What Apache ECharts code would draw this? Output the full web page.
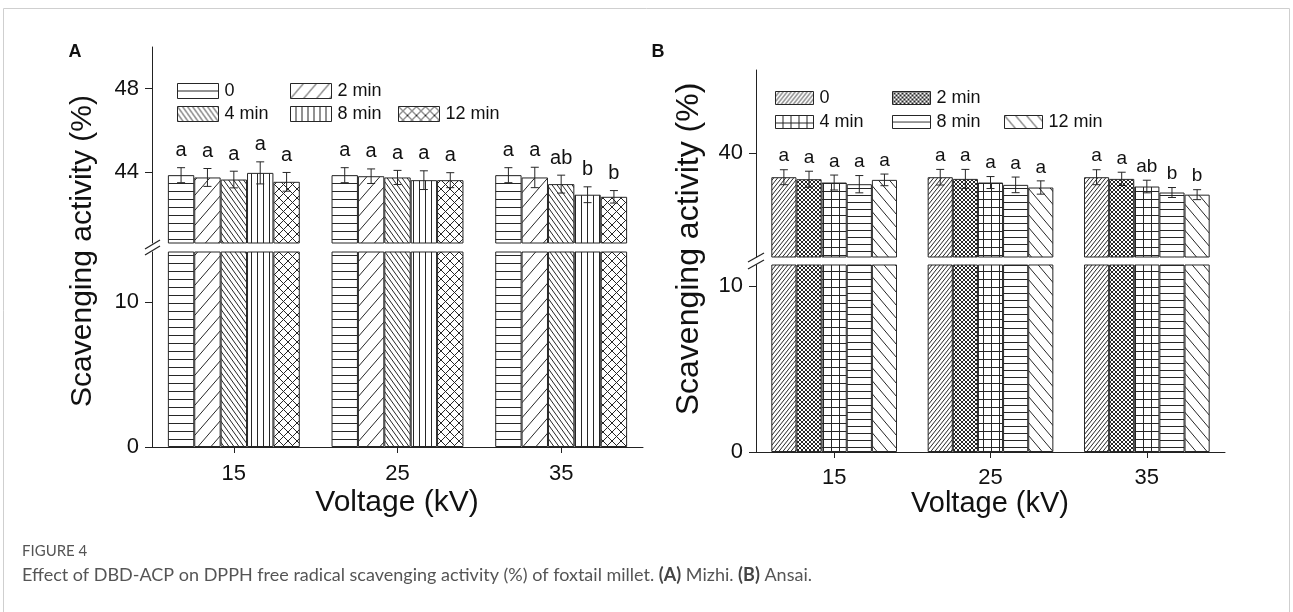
<!DOCTYPE html>
<html><head><meta charset="utf-8">
<script src="https://cdn.jsdelivr.net/npm/echarts@6/dist/echarts.min.js"></script>
<style>html,body{margin:0;padding:0;background:#fff}#c{width:1293px;height:612px}</style>
</head><body><div id="c"></div>
<script>
// ---------------- DATA ----------------
const categories = ['15', '25', '35'];
const seriesNames = ['0', '2 min', '4 min', '8 min', '12 min'];

// Panel A (Mizhi): mean, error, letters for each treatment time across voltages 15/25/35
const meanA_0   = [43.84, 43.84, 43.84];
const meanA_2   = [43.73, 43.79, 43.73];
const meanA_4   = [43.63, 43.73, 43.41];
const meanA_8   = [43.95, 43.60, 42.90];
const meanA_12  = [43.52, 43.60, 42.80];
const errA_0    = [0.36, 0.36, 0.36];
const errA_2    = [0.43, 0.35, 0.49];
const errA_4    = [0.40, 0.34, 0.43];
const errA_8    = [0.53, 0.45, 0.38];
const errA_12   = [0.45, 0.36, 0.30];
const letA_0    = ['a', 'a', 'a'];
const letA_2    = ['a', 'a', 'a'];
const letA_4    = ['a', 'a', 'ab'];
const letA_8    = ['a', 'a', 'b'];
const letA_12   = ['a', 'a', 'b'];

// Panel B (Ansai)
const meanB_0   = [38.55, 38.55, 38.55];
const meanB_2   = [38.43, 38.45, 38.45];
const meanB_4   = [38.23, 38.23, 37.99];
const meanB_8   = [38.13, 38.09, 37.63];
const meanB_12  = [38.39, 37.93, 37.50];
const errB_0    = [0.45, 0.47, 0.45];
const errB_2    = [0.48, 0.57, 0.40];
const errB_4    = [0.45, 0.36, 0.38];
const errB_8    = [0.52, 0.47, 0.30];
const errB_12   = [0.35, 0.40, 0.30];
const letB_0    = ['a', 'a', 'a'];
const letB_2    = ['a', 'a', 'a'];
const letB_4    = ['a', 'a', 'ab'];
const letB_8    = ['a', 'a', 'b'];
const letB_12   = ['a', 'a', 'b'];

// Axis tick labels
const ticksA_upper = [44, 48];
const ticksA_lower = [0, 10];
const ticksB_upper = [40];
const ticksB_lower = [0, 10];

// ---------------- STYLE HELPERS ----------------
const FONT = 'Liberation Sans, Arial, sans-serif';
const INK = '#262626';
function tile(w, h, draw) {
  const c = document.createElement('canvas'); c.width = w; c.height = h;
  const g = c.getContext('2d'); g.fillStyle = '#fff'; g.fillRect(0, 0, w, h);
  g.strokeStyle = INK; g.lineWidth = 1; g.beginPath(); draw(g, w, h); g.stroke();
  return { image: c, repeat: 'repeat' };
}
const hLines = s => tile(4, s, (g, w, h) => { g.moveTo(0, h - 0.5); g.lineTo(w, h - 0.5); });
const vLines = s => tile(s, 4, (g, w, h) => { g.moveTo(w - 0.5, 0); g.lineTo(w - 0.5, h); });
const slash = (w, h) => tile(w, h, g => { for (let k = -1; k <= 1; k++) { g.moveTo(k * w, h); g.lineTo(k * w + w, 0); } });
const back = (w, h) => tile(w, h, g => { for (let k = -1; k <= 1; k++) { g.moveTo(k * w, 0); g.lineTo(k * w + w, h); } });
const cross = (w, h) => tile(w, h, g => { for (let k = -1; k <= 1; k++) { g.moveTo(k * w, h); g.lineTo(k * w + w, 0); g.moveTo(k * w, 0); g.lineTo(k * w + w, h); } });
const gridP = (sx, sy) => tile(sx, sy, (g, w, h) => { g.moveTo(0, h - 0.5); g.lineTo(w, h - 0.5); g.moveTo(w - 0.5, 0); g.lineTo(w - 0.5, h); });

const patternsA = [hLines(8), slash(13, 15), back(5, 7), vLines(6), cross(9, 9)];
const patternsB = [slash(4, 5), cross(4, 4), gridP(8, 8), hLines(7), back(11, 13)];

const panels = [
  {
    key: 'A', suffix: '', gap: 0.194, xMargin: 16,
    means: [meanA_0, meanA_2, meanA_4, meanA_8, meanA_12],
    errs: [errA_0, errA_2, errA_4, errA_8, errA_12],
    lets: [letA_0, letA_2, letA_4, letA_8, letA_12],
    patterns: patternsA,
    up: { left: 152, top: 47, width: 491, height: 196, min: 40.58, max: 50, ticks: ticksA_upper },
    low: { left: 152, top: 252, width: 491, height: 195, min: 0, max: 13.45, ticks: ticksA_lower },
    letterFont: 20, letterOff: 17,
    legend: { w: 41, h: 15, pos: [[177, 82], [290, 82], [177, 105], [290, 105], [398, 105]] }
  },
  {
    key: 'B', suffix: '\u200b', gap: 0.196, xMargin: 15,
    means: [meanB_0, meanB_2, meanB_4, meanB_8, meanB_12],
    errs: [errB_0, errB_2, errB_4, errB_8, errB_12],
    lets: [letB_0, letB_2, letB_4, letB_8, letB_12],
    patterns: patternsB,
    up: { left: 756, top: 70, width: 469, height: 187, min: 33.75, max: 45, ticks: ticksB_upper },
    low: { left: 756, top: 265, width: 469, height: 187, min: 0, max: 11.25, ticks: ticksB_lower },
    letterFont: 19, letterOff: 13.5,
    legend: { w: 38, h: 13, pos: [[775, 89], [892, 89], [775, 113], [892, 113], [1004, 113]] }
  }
];

const grid = [], xAxis = [], yAxis = [], series = [], legend = [], graphic = [];

panels.forEach((p, pi) => {
  const gU = pi * 2, gL = pi * 2 + 1;
  [p.up, p.low].forEach((g, k) => {
    grid.push({ left: g.left, top: g.top, width: g.width, height: g.height, containLabel: false, outerBoundsMode: 'none' });
    const isLow = k === 1;
    xAxis.push({
      type: 'category', gridIndex: pi * 2 + k, data: categories, show: isLow,
      axisLine: { show: true, lineStyle: { color: '#222', width: 1 } },
      axisTick: { show: true, alignWithLabel: true, length: 6, lineStyle: { color: '#222' } },
      axisLabel: { show: true, fontSize: 22, fontFamily: FONT, color: '#111', margin: p.xMargin },
      splitLine: { show: false }
    });
    yAxis.push({
      type: 'value', gridIndex: pi * 2 + k, min: g.min, max: g.max,
      axisLine: { show: true, lineStyle: { color: '#222', width: 1 } },
      axisTick: { show: true, length: 7, inside: false, customValues: g.ticks, lineStyle: { color: '#222' } },
      axisLabel: { show: true, customValues: g.ticks, fontSize: 22, fontFamily: FONT, color: '#111', margin: 13 },
      splitLine: { show: false }
    });
  });

  seriesNames.forEach((nm, si) => {
    const name = nm + p.suffix;
    const style = { color: p.patterns[si], borderColor: INK, borderWidth: 1 };
    [gU, gL].forEach(gi => {
      series.push({
        type: 'bar', name, xAxisIndex: gi, yAxisIndex: gi,
        data: p.means[si], barGap: '0%', barCategoryGap: (p.gap * 100) + '%',
        itemStyle: style, emphasis: { disabled: true }, animation: false
      });
    });
    legend.push({
      data: [name], left: p.legend.pos[si][0], top: p.legend.pos[si][1],
      itemWidth: p.legend.w, itemHeight: p.legend.h, icon: 'rect', padding: 0,
      selectedMode: false, itemGap: 0,
      itemStyle: { borderColor: INK, borderWidth: 1 },
      formatter: n => n.replace('\u200b', ''),
      textStyle: { fontSize: 18, fontFamily: FONT, color: '#111', lineHeight: p.legend.h, padding: [0, 0, 0, 1] }
    });
  });

  // error bars + significance letters
  const eData = [];
  for (let si = 0; si < 5; si++) for (let c = 0; c < categories.length; c++) eData.push([c, si, p.means[si][c], p.errs[si][c]]);
  series.push({
    type: 'custom', xAxisIndex: gU, yAxisIndex: gU, z: 10, clip: false, animation: false,
    encode: { x: 0, y: 2 }, data: eData,
    renderItem: (params, api) => {
      const c = api.value(0), si = api.value(1), m = api.value(2), e = api.value(3);
      const band = api.size([1, 0])[0];
      const gw = band * (1 - p.gap), bw = gw / 5;
      const cx = api.coord([c, m])[0] - gw / 2 + bw * (si + 0.5);
      const yT = api.coord([c, m + e])[1], yB = api.coord([c, m - e])[1];
      const ls = { stroke: INK, lineWidth: 1 };
      return {
        type: 'group', children: [
          { type: 'line', shape: { x1: cx, y1: yT, x2: cx, y2: yB }, style: ls },
          { type: 'line', shape: { x1: cx - 4, y1: yT, x2: cx + 4, y2: yT }, style: ls },
          { type: 'line', shape: { x1: cx - 4, y1: yB, x2: cx + 4, y2: yB }, style: ls },
          { type: 'text', x: cx, y: yT - p.letterOff, style: { text: p.lets[si][c], align: 'center', verticalAlign: 'middle', textAlign: 'center', textVerticalAlign: 'middle', fontSize: p.letterFont, fontFamily: FONT, fill: '#111' } }
        ]
      };
    }
  });
});

// ---------------- DECORATION ----------------
const txt = (x, y, text, size, extra) => ({
  type: 'text', x, y, silent: true,
  style: Object.assign({ text, fontSize: size, fontFamily: FONT, fill: '#111', align: 'center', verticalAlign: 'middle', textAlign: 'center', textVerticalAlign: 'middle' }, extra || {})
});

// panel letters
graphic.push(txt(75, 52, 'A', 18, { fontWeight: 'bold' }));
graphic.push(txt(658, 52, 'B', 18, { fontWeight: 'bold' }));
// axis titles
graphic.push(Object.assign(txt(83, 251, 'Scavenging activity (%)', 30), { rotation: Math.PI / 2 }));
graphic.push(Object.assign(txt(689, 249, 'Scavenging activity (%)', 32), { rotation: Math.PI / 2 }));
graphic.push(txt(397, 503, 'Voltage (kV)', 30));
graphic.push(txt(990, 504, 'Voltage (kV)', 29));
// axis break marks
const brk = (x1, y1, x2, y2) => ({ type: 'line', silent: true, shape: { x1, y1, x2, y2 }, style: { stroke: '#222', lineWidth: 1.2 } });
graphic.push(brk(145, 249, 160, 240), brk(145, 255, 160, 246));
graphic.push(brk(748, 262, 764, 253), brk(748, 269, 764, 260));
// frame
graphic.push({ type: 'rect', silent: true, shape: { x: 3.5, y: 8.5, width: 1286, height: 700 }, style: { fill: 'none', stroke: '#cfcfcf', lineWidth: 1 } });
// caption
graphic.push({ type: 'text', x: 22, y: 551, silent: true, style: { text: 'FIGURE 4', fontSize: 15, fontFamily: 'Lato, sans-serif', fill: '#555', align: 'left', verticalAlign: 'middle', textAlign: 'left', textVerticalAlign: 'middle' } });
graphic.push({ type: 'text', x: 22, y: 575, silent: true, style: {
  text: 'Effect of DBD-ACP on DPPH free radical scavenging activity (%) of foxtail millet. {b|(A)} Mizhi. {b|(B)} Ansai.',
  fontSize: 18, fontFamily: 'Lato, sans-serif', fill: '#555', align: 'left', verticalAlign: 'middle', textAlign: 'left', textVerticalAlign: 'middle',
  rich: { b: { fontSize: 18, fontFamily: 'Lato, sans-serif', fontWeight: 'bold', fill: '#444' } }
} });

const chart = echarts.init(document.getElementById('c'), null, { renderer: 'canvas', width: 1293, height: 612 });
chart.setOption({
  backgroundColor: '#fff', animation: false,
  grid, xAxis, yAxis, series, legend, graphic
});
</script></body></html>
